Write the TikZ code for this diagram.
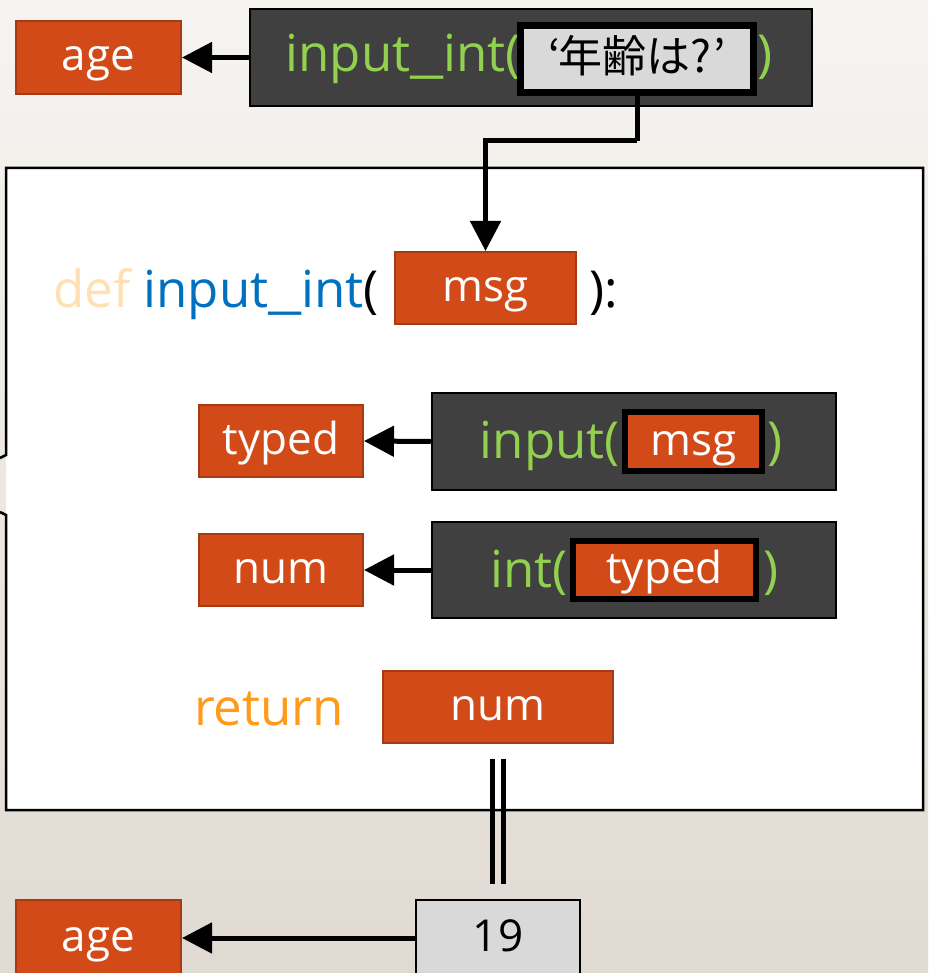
\documentclass[tikz,border=0pt]{standalone}
\usepackage{fontspec}
\setmainfont{Open Sans}
\newfontfamily\jpfont{Noto Sans CJK JP}
\usetikzlibrary{arrows.meta,calc}

\definecolor{bgtop}{HTML}{F6F4F1}
\definecolor{bgbot}{HTML}{E1DAD3}
\definecolor{varfill}{HTML}{D24A18}
\definecolor{varedge}{HTML}{A63A12}
\definecolor{codebg}{HTML}{404040}
\definecolor{codegreen}{HTML}{92D050}
\definecolor{kwblue}{HTML}{0070C0}
\definecolor{kwdef}{HTML}{FFE0B3}
\definecolor{kwret}{HTML}{FF9A1A}
\definecolor{valfill}{HTML}{D9D9D9}

% a wider underscore for identifiers
\newcommand{\wideus}{\scalebox{1.45}[1]{\_}}

\tikzset{
  lbl/.style={font=\fontsize{44}{50}\selectfont, text height=27pt, text depth=0pt, inner sep=0pt},
  var/.style={lbl, draw=varedge, line width=2pt, fill=varfill, text=white},
  value/.style={lbl, draw=black, line width=2.5pt, fill=valfill, text=black},
  codebox/.style={draw=black, line width=2.5pt, fill=codebg, inner sep=0pt},
  argvar/.style={lbl, draw=black, line width=6pt, fill=varfill, text=white},
  argval/.style={draw=black, line width=7pt, fill=valfill, text=black, inner sep=0pt,
    font=\jpfont\fontsize{44}{50}\selectfont, text height=27pt, text depth=0pt},
  code/.style={font=\fontsize{51}{56}\selectfont, inner sep=0pt},
  conn/.style={line width=5pt, -{Triangle[length=30pt,width=30pt]}},
  retline/.style={line width=5pt},
}

\begin{document}
\begin{tikzpicture}[x=1pt,y=-1pt]
\useasboundingbox (0,0) rectangle (928,973);
\fill[top color=bgtop, bottom color=bgbot] (0,0) rectangle (928,973);

% function body frame (open on the left where the callout stem leaves)
\fill[white] (6,168) rectangle (923,810);
\draw[line width=2.5pt, line join=miter]
  (0,458) -- (6,455) -- (6,168) -- (923,168) -- (923,810) -- (6,810) -- (6,515) -- (0,512);

% top call: age <- input_int('...')
\node[var, minimum width=165pt, minimum height=73pt] (age1) at (98.5,57.5) {age};
\node[codebox, minimum width=562pt, minimum height=97pt] (call1) at (531,57.5) {};
\node[code, text=codegreen, anchor=base east] (call1open) at (521,72) {input\wideus int(};
\node[argval, minimum width=233pt, minimum height=67pt] (arg1) at (637,59) {‘\kern-2pt 年齢は?\kern2pt’};
\node[code, text=codegreen, anchor=base west] (call1close) at (757,72) {)};
\draw[conn] (call1.west) -- (age1.east);

% def line
\node[code, anchor=base west] (defline) at (53,307)
  {{\color{kwdef}def} {\color{kwblue}input\wideus int}(};
\node[var, minimum width=181pt, minimum height=72pt] (param) at (485.5,288) {msg};
\node[code, anchor=base west] (defclose) at (589,307) {):};
\draw[line width=5pt] (arg1.south) -- ($(arg1.south)+(0,45)$) coordinate (bend);
\draw[conn] (bend) -| (param.north);

% typed <- input(msg)
\node[var, minimum width=164pt, minimum height=72pt] (typed) at (281,441) {typed};
\node[codebox, minimum width=404pt, minimum height=97pt] (call2) at (634,441.5) {};
\node[argvar, minimum width=137pt, minimum height=59pt] (arg2) at (693.5,441.5) {msg};
\node[code, text=codegreen, anchor=base east] (call2open) at (620,458) {input(};
\node[code, text=codegreen, anchor=base west] (call2close) at (767,458) {)};
\draw[conn] (call2.west) -- (typed.east);

% num <- int(typed)
\node[var, minimum width=164pt, minimum height=72pt] (num) at (281,570) {num};
\node[codebox, minimum width=404pt, minimum height=96pt] (call3) at (634,570) {};
\node[argvar, minimum width=183pt, minimum height=58pt] (arg3) at (664.5,570) {typed};
\node[code, text=codegreen, anchor=base east] (call3open) at (568,587) {int(};
\node[code, text=codegreen, anchor=base west] (call3close) at (763,587) {)};
\draw[conn] (call3.west) -- (num.east);

% return num
\node[code, text=kwret, anchor=base west] (ret) at (194,725) {return};
\node[var, minimum width=230pt, minimum height=72pt] (retval) at (498,707) {num};

% result value and assignment
\node[value, minimum width=164pt, minimum height=76pt] (result) at (498,938) {19};
\node[var, minimum width=165pt, minimum height=76pt] (age2) at (98.5,938) {age};
\draw[retline] ($(retval.south)+(-5.5,15)$) -- ($(result.north)+(-5.5,-15)$);
\draw[retline] ($(retval.south)+(5.5,15)$) -- ($(result.north)+(5.5,-15)$);
\draw[conn] (result.west) -- (age2.east);
\end{tikzpicture}
\end{document}
